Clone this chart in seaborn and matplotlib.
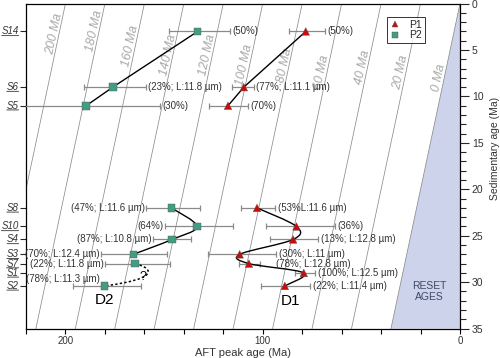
import numpy as np
import pandas as pd
import matplotlib
matplotlib.use("Agg")
import matplotlib.pyplot as plt
from matplotlib.path import Path
from matplotlib.patches import PathPatch
from matplotlib.ticker import MultipleLocator
from matplotlib.transforms import blended_transform_factory
from matplotlib.textpath import TextPath
from matplotlib.font_manager import FontProperties
import seaborn as sns

# ---------------- data ----------------
samples = ["S14", "S6", "S5", "S8", "S10", "S4", "S3", "S7", "S1", "S2"]
sed_age = [3, 9, 11, 22, 24, 25.4, 27, 28, 29, 30.4]

# P1 peak ages (Ma) and error-bar ends
p1_age = [78.2, 109.6, 117.6, 102.9, 82.9, 84.6, 111.7, 107.0, 79.2, 88.8]
p1_old = [86.8, 115.6, 127.3, 110.8, 98.1, 96.1, 127.8, 112.0, 83.8, 100.7]
p1_young = [68.5, 104.6, 107.5, 93.9, 63.5, 71.9, 93.4, 101.5, 73.6, 76.1]
p1_text = ["(50%)", "(77%; L:11.1 µm)", "(70%)", "(53%L:11.6 µm)", "(36%)",
           "(13%; L:12.8 µm)", "(30%; L:11 µm)", "(78%; L:12.8 µm)",
           "(100%; L:12.5 µm)", "(22%; L:11.4 µm)"]

# P2 (no S1)
p2_samples = ["S14", "S6", "S5", "S8", "S10", "S4", "S3", "S7", "S2"]
p2_sed = [3, 9, 11, 22, 24, 25.4, 27, 28, 30.4]
p2_age = [133.0, 176.0, 189.5, 146.2, 133.3, 146.0, 165.6, 164.6, 180.2]
p2_old = [147.7, 190.4, 230.0, 159.0, 149.4, 155.8, 181.9, 180.0, 196.3]
p2_young = [116.8, 159.4, 152.3, 132.0, 115.0, 136.2, 148.4, 147.0, 161.6]
p2_text = ["(50%)", "(23%; L:11.8 µm)", "(30%)", "(47%; L:11.6 µm)", "(64%)",
           "(87%; L:10.8 µm)", "(70%; L:12.4 µm)", "(22%; L:11.8 µm)",
           "(78%; L:11.3 µm)"]

lag_times = list(range(0, 221, 20))
lag_label_y = [8.0, 7.4, 6.9, 7.4, 6.6, 6.6, 5.5, 5.5, 4.6, 2.9, 3.3]  # for 0..200 Ma

RED = "#cc0a0a"
TEAL = "#439d84"
GREY_TXT = "#333333"

# ---------------- style ----------------
sns.set_style("ticks")
plt.rcParams["font.family"] = ["Liberation Sans", "DejaVu Sans"]
plt.rcParams["axes.linewidth"] = 0.9

fig = plt.figure(figsize=(5.0, 3.58), dpi=100)
ax = fig.add_axes([0.052, 0.082, 0.868, 0.908])
ax.set_xlim(220, 0)
ax.set_ylim(35, 0)

# lag-time lines and reset zone
for L in lag_times:
    ax.plot([L, L + 35], [0, 35], color="#8c8c8c", lw=0.55, zorder=1)
ax.fill([0, 35, 0], [0, 35, 35], color="#cdd3ea", lw=0, zorder=0.5)

fig.canvas.draw()
p_a = ax.transData.transform((35, 35))
p_b = ax.transData.transform((0, 0))
ang = np.degrees(np.arctan2(p_b[1] - p_a[1], p_b[0] - p_a[0]))
for L, yy in zip(lag_times[:-1], lag_label_y):
    ax.text(L + yy + 2.5, yy, f"{L} Ma", rotation=ang, ha="center", va="center",
            fontsize=9, style="italic", color="#a8a8a8", zorder=1.5)

ax.text(15.5, 31.0, "RESET\nAGES", ha="center", va="center", fontsize=7.5,
        color="#3c4a68", linespacing=1.1, zorder=2)

# error bars
def errbars(age, old, young, sed):
    age = np.array(age); old = np.array(old); young = np.array(young)
    ax.errorbar(age, sed, xerr=[age - young, old - age], fmt="none",
                ecolor="#8a8a8a", elinewidth=0.9, capsize=2, capthick=0.9, zorder=3)

errbars(p1_age, p1_old, p1_young, sed_age)
errbars(p2_age, p2_old, p2_young, p2_sed)

# straight connections (upper samples)
ax.plot(p1_age[:3], sed_age[:3], color="black", lw=1.0, zorder=4)
ax.plot(p2_age[:3], p2_sed[:3], color="black", lw=1.0, zorder=4)

# smooth connections (lower samples)
def smooth_path(xs, ys):
    P = np.column_stack([xs, ys]).astype(float)
    E = np.vstack([P[0], P, P[-1]])
    verts = [P[0]]
    codes = [Path.MOVETO]
    for i in range(len(P) - 1):
        p0, p1, p2, p3 = E[i], E[i + 1], E[i + 2], E[i + 3]
        verts += [p1 + (p2 - p0) / 6.0, p2 - (p3 - p1) / 6.0, p2]
        codes += [Path.CURVE4] * 3
    return Path(verts, codes)

ax.add_patch(PathPatch(smooth_path(p1_age[3:], sed_age[3:]), fill=False,
                       ec="black", lw=1.0, zorder=4))
ax.add_patch(PathPatch(smooth_path(p2_age[3:7], p2_sed[3:7]), fill=False,
                       ec="black", lw=1.0, zorder=4))
# uncertain dashed link S7 -> S2 for P2
s7 = np.array([p2_age[7], p2_sed[7]])
s2 = np.array([p2_age[8], p2_sed[8]])
dash = Path([s7, s7 + [-10.5, 0.6], s7 + [-10.5, 1.7], s2],
            [Path.MOVETO, Path.CURVE4, Path.CURVE4, Path.CURVE4])
ax.add_patch(PathPatch(dash, fill=False, ec="black", lw=1.1, ls=(0, (1.5, 1.5)), zorder=4))
ax.text(p2_age[7] - 3.8, 29.4, "?", fontsize=9, ha="center", va="center", color="black", zorder=4)

# points via seaborn
df = pd.DataFrame({
    "age": p1_age + p2_age,
    "sed": sed_age + p2_sed,
    "group": ["P1"] * len(p1_age) + ["P2"] * len(p2_age),
})
sns.scatterplot(data=df, x="age", y="sed", hue="group", style="group",
                markers={"P1": "^", "P2": "s"}, palette={"P1": RED, "P2": TEAL},
                s=30, linewidth=0.3, edgecolor="#555555", ax=ax, zorder=5)

# value annotations
for i, t in enumerate(p1_text):
    extra = 10 if samples[i] == "S7" else 0
    ax.annotate(t, (p1_young[i], sed_age[i]), xytext=(2 + extra, 0),
                textcoords="offset points", ha="left", va="center",
                fontsize=7, color=GREY_TXT, zorder=6)
for i, t in enumerate(p2_text):
    s = p2_samples[i]
    if s in ("S14", "S6", "S5"):
        ax.annotate(t, (p2_young[i], p2_sed[i]), xytext=(2, 0),
                    textcoords="offset points", ha="left", va="center",
                    fontsize=7, color=GREY_TXT, zorder=6)
    elif s == "S2":
        ax.annotate(t, (p2_age[i], p2_sed[i]), xytext=(-3, 4.8),
                    textcoords="offset points", ha="right", va="center",
                    fontsize=7, color=GREY_TXT, zorder=6)
    else:
        ax.annotate(t, (p2_old[i], p2_sed[i]), xytext=(-1, 0),
                    textcoords="offset points", ha="right", va="center",
                    fontsize=7, color=GREY_TXT, zorder=6)

ax.text(86, 32.0, "D1", fontsize=11, ha="center", va="center", color="black")
ax.text(180, 31.9, "D2", fontsize=11, ha="center", va="center", color="black")

# legend
h, l = ax.get_legend_handles_labels()
leg = ax.legend(h, l, loc="upper left", bbox_to_anchor=(0.832, 0.958),
                borderaxespad=0, frameon=True, fancybox=False, fontsize=7.5,
                handlelength=1.0, handletextpad=0.9, labelspacing=0.05,
                borderpad=0.25, markerscale=0.8)
leg.get_frame().set_edgecolor("black")
leg.get_frame().set_linewidth(0.7)

# axes and ticks
ax.set_xticks([200, 100, 0])
ax.xaxis.set_minor_locator(MultipleLocator(20))
ax.tick_params(axis="x", which="both", length=3.5, width=0.8, labelsize=7,
               colors="black", labelcolor=GREY_TXT, pad=2)
ax.set_xlabel("AFT peak age (Ma)", fontsize=8, color=GREY_TXT, labelpad=1)

# left axis: sample ticks, labels drawn as underlined italic text
ax.set_yticks(sed_age)
ax.set_yticklabels([])
ax.tick_params(axis="y", which="both", length=4.5, width=0.8, right=False)
ax.set_ylabel("")
btf = blended_transform_factory(ax.transAxes, ax.transData)
fp = FontProperties(family="Liberation Sans", style="italic", size=7)
XA = -0.017
for s, yv in zip(samples, sed_age):
    ax.text(XA, yv, s, transform=btf, ha="right", va="center",
            fontproperties=fp, color=GREY_TXT, clip_on=False)
    w = TextPath((0, 0), s, prop=fp).get_extents().x1
    ax.annotate("", xy=(XA, yv + 0.45), xycoords=btf,
                xytext=(-w, 0), textcoords="offset points",
                arrowprops=dict(arrowstyle="-", lw=0.6, color=GREY_TXT,
                                shrinkA=0, shrinkB=0),
                annotation_clip=False)

ax2 = ax.twinx()
ax2.set_ylim(35, 0)
ax2.set_yticks(range(0, 36, 5))
ax2.yaxis.set_minor_locator(MultipleLocator(1))
ax2.tick_params(axis="y", which="major", length=6.5, width=0.8, labelsize=7.5,
                labelcolor=GREY_TXT, pad=2)
ax2.tick_params(axis="y", which="minor", length=4, width=0.8)
ax2.set_ylabel("Sedimentary age (Ma)", fontsize=7.5, color=GREY_TXT)
ax2.yaxis.set_label_coords(1.07, 0.555)
for sp in ax2.spines.values():
    sp.set_visible(False)
for sp in ax.spines.values():
    sp.set_visible(True)
    sp.set_color("black")

fig.savefig("out.png", dpi=100)
